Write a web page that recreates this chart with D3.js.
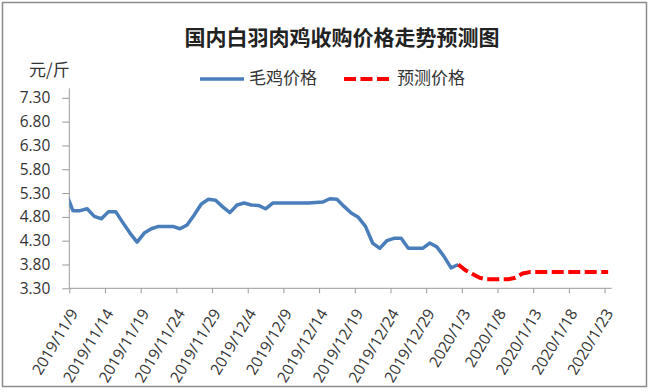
<!DOCTYPE html>
<html><head><meta charset="utf-8">
<script src="https://cdn.jsdelivr.net/npm/d3@7"></script>
<style>body{margin:0;background:#fff}svg{display:block}</style>
</head><body>
<svg id="c" width="653" height="392"></svg>
<script>
// ---------- data ----------
const chartTitle = "国内白羽肉鸡收购价格走势预测图";
const unitLabel = "元/斤";
const seriesNames = ["毛鸡价格", "预测价格"];

// daily actual prices, starting 2019-11-08 (first day lies left of the axis and is clipped)
const actualStart = "2019-11-08";
const actualValues = [
  5.32, 4.93, 4.93, 4.97, 4.81, 4.76, 4.91, 4.91, 4.68, 4.46,
  4.27, 4.46, 4.55, 4.60, 4.60, 4.60, 4.55, 4.63, 4.84, 5.07,
  5.17, 5.15, 5.01, 4.89, 5.05, 5.09, 5.05, 5.04, 4.97, 5.09,
  5.09, 5.09, 5.09, 5.09, 5.09, 5.10, 5.11, 5.18, 5.17, 5.02,
  4.88, 4.79, 4.60, 4.25, 4.14, 4.30, 4.35, 4.35, 4.14, 4.14,
  4.14, 4.25, 4.17, 3.97, 3.73, 3.80
];
// daily forecast prices, starting 2020-01-02
const forecastStart = "2020-01-02";
const forecastValues = [
  3.80, 3.68, 3.60, 3.52, 3.49, 3.49, 3.49, 3.49, 3.52, 3.61,
  3.64, 3.64, 3.64, 3.64, 3.64, 3.64, 3.64, 3.64, 3.64, 3.64, 3.64, 3.64
];
const yTickValues = [3.30, 3.80, 4.30, 4.80, 5.30, 5.80, 6.30, 6.80, 7.30];
const yDomain = [3.30, 7.50];
const xTickDates = ["2019-11-09","2019-11-14","2019-11-19","2019-11-24","2019-11-29",
  "2019-12-04","2019-12-09","2019-12-14","2019-12-19","2019-12-24","2019-12-29",
  "2020-01-03","2020-01-08","2020-01-13","2020-01-18","2020-01-23"];
const xDomainDates = ["2019-11-09", "2020-01-24"];

// ---------- layout ----------
const W = 653, H = 392;
const plot = {left: 69.3, right: 611.7, top: 88.3, bottom: 288.3};
const BLUE = "#4a7ebb", RED = "#ff0000", AXIS = "#9a9a9a", TEXT = "#333";
const CJK = "'Noto Sans CJK SC', 'Noto Sans', sans-serif";
const NUM = "'Open Sans', 'DejaVu Sans', sans-serif";

const parse = d3.timeParse("%Y-%m-%d");
const fmt = d => `${d.getFullYear()}/${d.getMonth()+1}/${d.getDate()}`;

const x = d3.scaleTime().domain(xDomainDates.map(parse)).range([plot.left, plot.right]);
const y = d3.scaleLinear().domain(yDomain).range([plot.bottom, plot.top]);

const toPoints = (start, vals) => vals.map((v, i) => ({
  date: d3.timeHour.offset(d3.timeDay.offset(parse(start), i), 12), v}));
const actual = toPoints(actualStart, actualValues);
const forecast = toPoints(forecastStart, forecastValues);

const svg = d3.select("#c");
svg.append("rect").attr("width", W).attr("height", H).attr("fill", "#fff");
svg.append("rect").attr("x", 2.5).attr("y", 2.5).attr("width", 644).attr("height", 384)
  .attr("fill", "none").attr("stroke", "#8c8c8c").attr("stroke-width", 1.5);

svg.append("defs").append("clipPath").attr("id", "clip").append("rect")
  .attr("x", plot.left).attr("y", plot.top)
  .attr("width", plot.right - plot.left).attr("height", plot.bottom - plot.top);

// title
svg.append("text").attr("x", 342).attr("y", 39)
  .attr("text-anchor", "middle").attr("dominant-baseline", "middle")
  .attr("font-family", CJK).attr("font-size", 21).attr("font-weight", 700)
  .attr("fill", "#222").text(chartTitle);

// unit
svg.append("text").attr("x", 29).attr("y", 71).attr("dominant-baseline", "middle")
  .attr("font-family", CJK).attr("font-size", 17).attr("fill", TEXT).text(unitLabel);

// legend
const lg = svg.append("g");
lg.append("line").attr("x1", 200).attr("x2", 244).attr("y1", 79).attr("y2", 79)
  .attr("stroke", BLUE).attr("stroke-width", 3.5);
lg.append("text").attr("x", 249).attr("y", 79).attr("dominant-baseline", "middle")
  .attr("font-family", CJK).attr("font-size", 17).attr("fill", TEXT).text(seriesNames[0]);
lg.append("line").attr("x1", 344).attr("x2", 392).attr("y1", 79).attr("y2", 79)
  .attr("stroke", RED).attr("stroke-width", 4).attr("stroke-dasharray", "12,4.5");
lg.append("text").attr("x", 397).attr("y", 79).attr("dominant-baseline", "middle")
  .attr("font-family", CJK).attr("font-size", 17).attr("fill", TEXT).text(seriesNames[1]);

// y axis
const yAxis = svg.append("g").attr("transform", `translate(${plot.left},0)`)
  .call(d3.axisLeft(y).tickValues(yTickValues).tickSize(7).tickPadding(14)
    .tickFormat(d3.format(".2f")));
yAxis.select(".domain").attr("stroke", AXIS).attr("d", `M0,${plot.top}V${plot.bottom}`);
yAxis.selectAll(".tick line").attr("stroke", AXIS);
yAxis.selectAll(".tick text").attr("font-family", NUM).attr("font-size", 15.5).attr("fill", TEXT)
  .attr("x", -19);

// x axis
const xAxis = svg.append("g").attr("transform", `translate(0,${plot.bottom})`)
  .call(d3.axisBottom(x).tickValues(xTickDates.map(parse)).tickSize(5).tickFormat(fmt));
xAxis.select(".domain").attr("stroke", AXIS).attr("d", `M${plot.left},0H${plot.right}`);
xAxis.selectAll(".tick line").attr("stroke", AXIS);
xAxis.selectAll(".tick text")
  .attr("font-family", NUM).attr("font-size", 15.5).attr("fill", TEXT)
  .attr("text-anchor", "end").attr("dy", "0.35em").attr("y", 0)
  .attr("transform", "translate(4,22) rotate(-59)");

// lines
const line = d3.line().x(d => x(d.date)).y(d => y(d.v));
const g = svg.append("g").attr("clip-path", "url(#clip)");
g.append("path").datum(actual).attr("d", line).attr("fill", "none")
  .attr("stroke", BLUE).attr("stroke-width", 3.5).attr("stroke-linejoin", "round");
g.append("path").datum(forecast).attr("d", line).attr("fill", "none")
  .attr("stroke", RED).attr("stroke-width", 4).attr("stroke-dasharray", "12,4.5")
  .attr("stroke-linejoin", "round");
</script>
</body></html>
